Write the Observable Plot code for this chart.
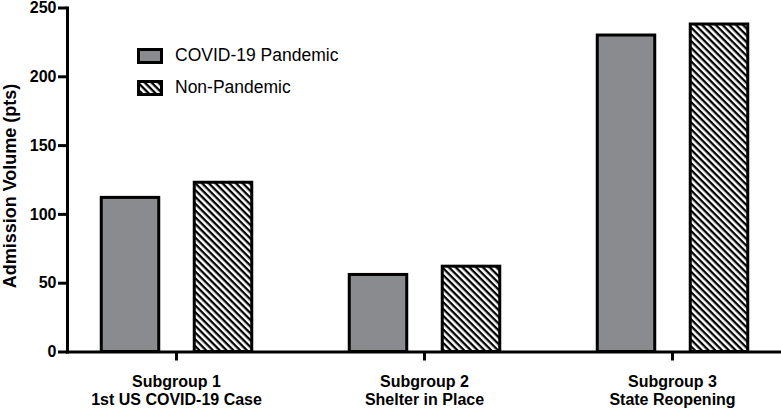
<!DOCTYPE html>
<html>
<head>
<meta charset="utf-8">
<script src="https://cdn.jsdelivr.net/npm/d3@7"></script>
<script src="https://cdn.jsdelivr.net/npm/@observablehq/plot@0.6"></script>
<style>
  body { margin: 0; background: #fff; font-family: "Liberation Sans", Arial, sans-serif; }
  #chart { position: relative; width: 781px; height: 410px; }
  .legend-item { position: absolute; display: flex; align-items: center; font-size: 17.5px; color: #000; white-space: nowrap; }
  .legend-item svg { display: block; margin-right: 12px; }
</style>
</head>
<body>
<svg width="0" height="0" style="position:absolute">
  <defs>
    <pattern id="hatch" patternUnits="userSpaceOnUse" width="4.8" height="4.8" patternTransform="rotate(45)">
      <rect width="4.8" height="4.8" fill="#fff"></rect>
      <rect width="4.8" height="2.3" fill="#000"></rect>
    </pattern>
  </defs>
</svg>
<div id="chart"></div>
<script>
// ---- data ----
const groups = ["Subgroup 1", "Subgroup 2", "Subgroup 3"];
const groupSubtitles = ["1st US COVID-19 Case", "Shelter in Place", "State Reopening"];
const series = ["COVID-19 Pandemic", "Non-Pandemic"];
const covidValues = [112, 56, 230];
const nonPandemicValues = [123, 62, 238];
const yTicks = [0, 50, 100, 150, 200, 250];
const yLabel = "Admission Volume (pts)";

// ---- styles ----
const grayFill = "#8a8b8f";
const fills = {"COVID-19 Pandemic": grayFill, "Non-Pandemic": "url(#hatch)"};

const covidData = groups.map((g, i) => ({group: g, series: series[0], value: covidValues[i]}));
const nonData = groups.map((g, i) => ({group: g, series: series[1], value: nonPandemicValues[i]}));

const plot = Plot.plot({
  width: 781,
  height: 410,
  marginLeft: 67,
  marginRight: 0,
  marginTop: 7.5,
  marginBottom: 58.5,
  style: {fontFamily: "'Liberation Sans', Arial, sans-serif", background: "#fff", color: "#000", overflow: "visible"},
  x: {domain: groups, range: [50.75, 796.25], padding: 0, label: null},
  y: {domain: [0, 250], label: null},
  marks: [
    Plot.barY(covidData, {x: "group", y: "value", fill: fills[series[0]], stroke: "#000", strokeWidth: 3,
      insetLeft: 49.25, insetRight: 141.25}),
    Plot.barY(nonData, {x: "group", y: "value", fill: fills[series[1]], stroke: "#000", strokeWidth: 3,
      insetLeft: 142.25, insetRight: 48.25}),
    Plot.axisY({ticks: yTicks, tickSize: 9, tickPadding: 2, strokeWidth: 3, fontSize: 16, fontWeight: "bold", label: null}),
    Plot.axisX({tickSize: 9, tickPadding: 13, strokeWidth: 3, fontSize: 16, fontWeight: "bold", lineHeight: 1.13,
      label: null, tickFormat: (d) => d + "\n" + groupSubtitles[groups.indexOf(d)]}),
    Plot.frame({anchor: "left", stroke: "#000", strokeWidth: 3, strokeLinecap: "square"}),
    Plot.frame({anchor: "bottom", stroke: "#000", strokeWidth: 3, strokeLinecap: "square"}),
    Plot.text([yLabel], {frameAnchor: "left", textAnchor: "middle", lineAnchor: "middle", rotate: -90, dx: -57, dy: 6, fontSize: 18, fontWeight: "bold"})
  ]
});

const chart = document.getElementById("chart");
chart.appendChild(plot);

// legend (inside the plot area, as in the reference)
const legendTops = [47, 79];
series.forEach((s, i) => {
  const item = document.createElement("div");
  item.className = "legend-item";
  item.style.left = "137px";
  item.style.top = (legendTops[i] - 2) + "px";
  item.innerHTML = `<svg width="26" height="16"><rect x="1.5" y="1.5" width="23" height="13" fill="${fills[s]}" stroke="#000" stroke-width="3"></rect></svg><span>${s}</span>`;
  chart.appendChild(item);
});
</script>
</body>
</html>
